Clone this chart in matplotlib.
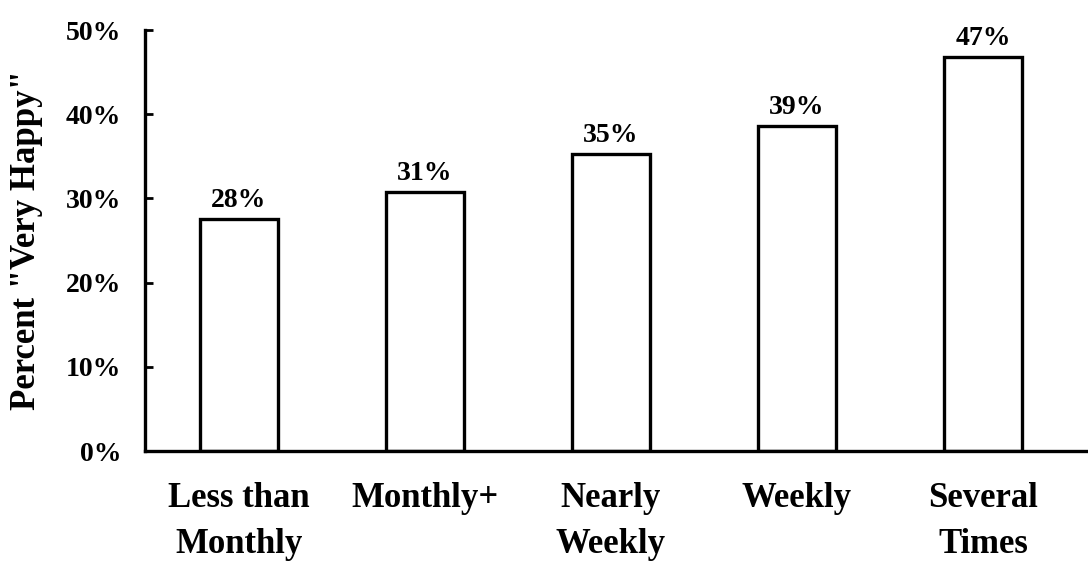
import matplotlib
matplotlib.use("Agg")
import matplotlib.pyplot as plt
import numpy as np

# data
categories = ["Less than\nMonthly", "Monthly+", "Nearly\nWeekly", "Weekly", "Several\nTimes"]
values = [27.6, 30.8, 35.3, 38.6, 46.8]
yticks = [0, 10, 20, 30, 40, 50]

plt.rcParams['font.family'] = ['Liberation Serif', 'DejaVu Serif']
plt.rcParams['font.weight'] = 'bold'

fig = plt.figure(figsize=(10.88, 5.61), dpi=100)
ax = fig.add_axes([0.1333, 0.196, 0.8667, 0.7505])

x = np.arange(len(categories))
bars = ax.bar(x, values, width=0.42, facecolor='white', edgecolor='black', linewidth=2.4)

for xi, v in zip(x, values):
    ax.annotate(f"{v:.0f}%", (xi, v), xytext=(0, 4), textcoords='offset points',
                ha='center', va='bottom', fontsize=20, fontweight='bold')

ax.set_xlim(-0.505, 4.565)
ax.set_ylim(0, 50)
ax.set_yticks(yticks)
ax.set_yticklabels([f"{t}%" for t in yticks], fontsize=20, fontweight='bold')
ax.set_xticks(x)
ax.set_xticklabels(categories, fontsize=25, fontweight='bold', linespacing=1.55)

ax.tick_params(axis='y', direction='in', length=6, width=2, pad=17)
ax.tick_params(axis='x', length=0, pad=22)

for side in ['top', 'right']:
    ax.spines[side].set_visible(False)
for side in ['left', 'bottom']:
    ax.spines[side].set_linewidth(2.4)

ax.set_ylabel('Percent "Very Happy"', fontsize=25, fontweight='bold')
ax.yaxis.set_label_coords(-0.108, 0.5)

fig.savefig("out.png", dpi=100, facecolor='white')
